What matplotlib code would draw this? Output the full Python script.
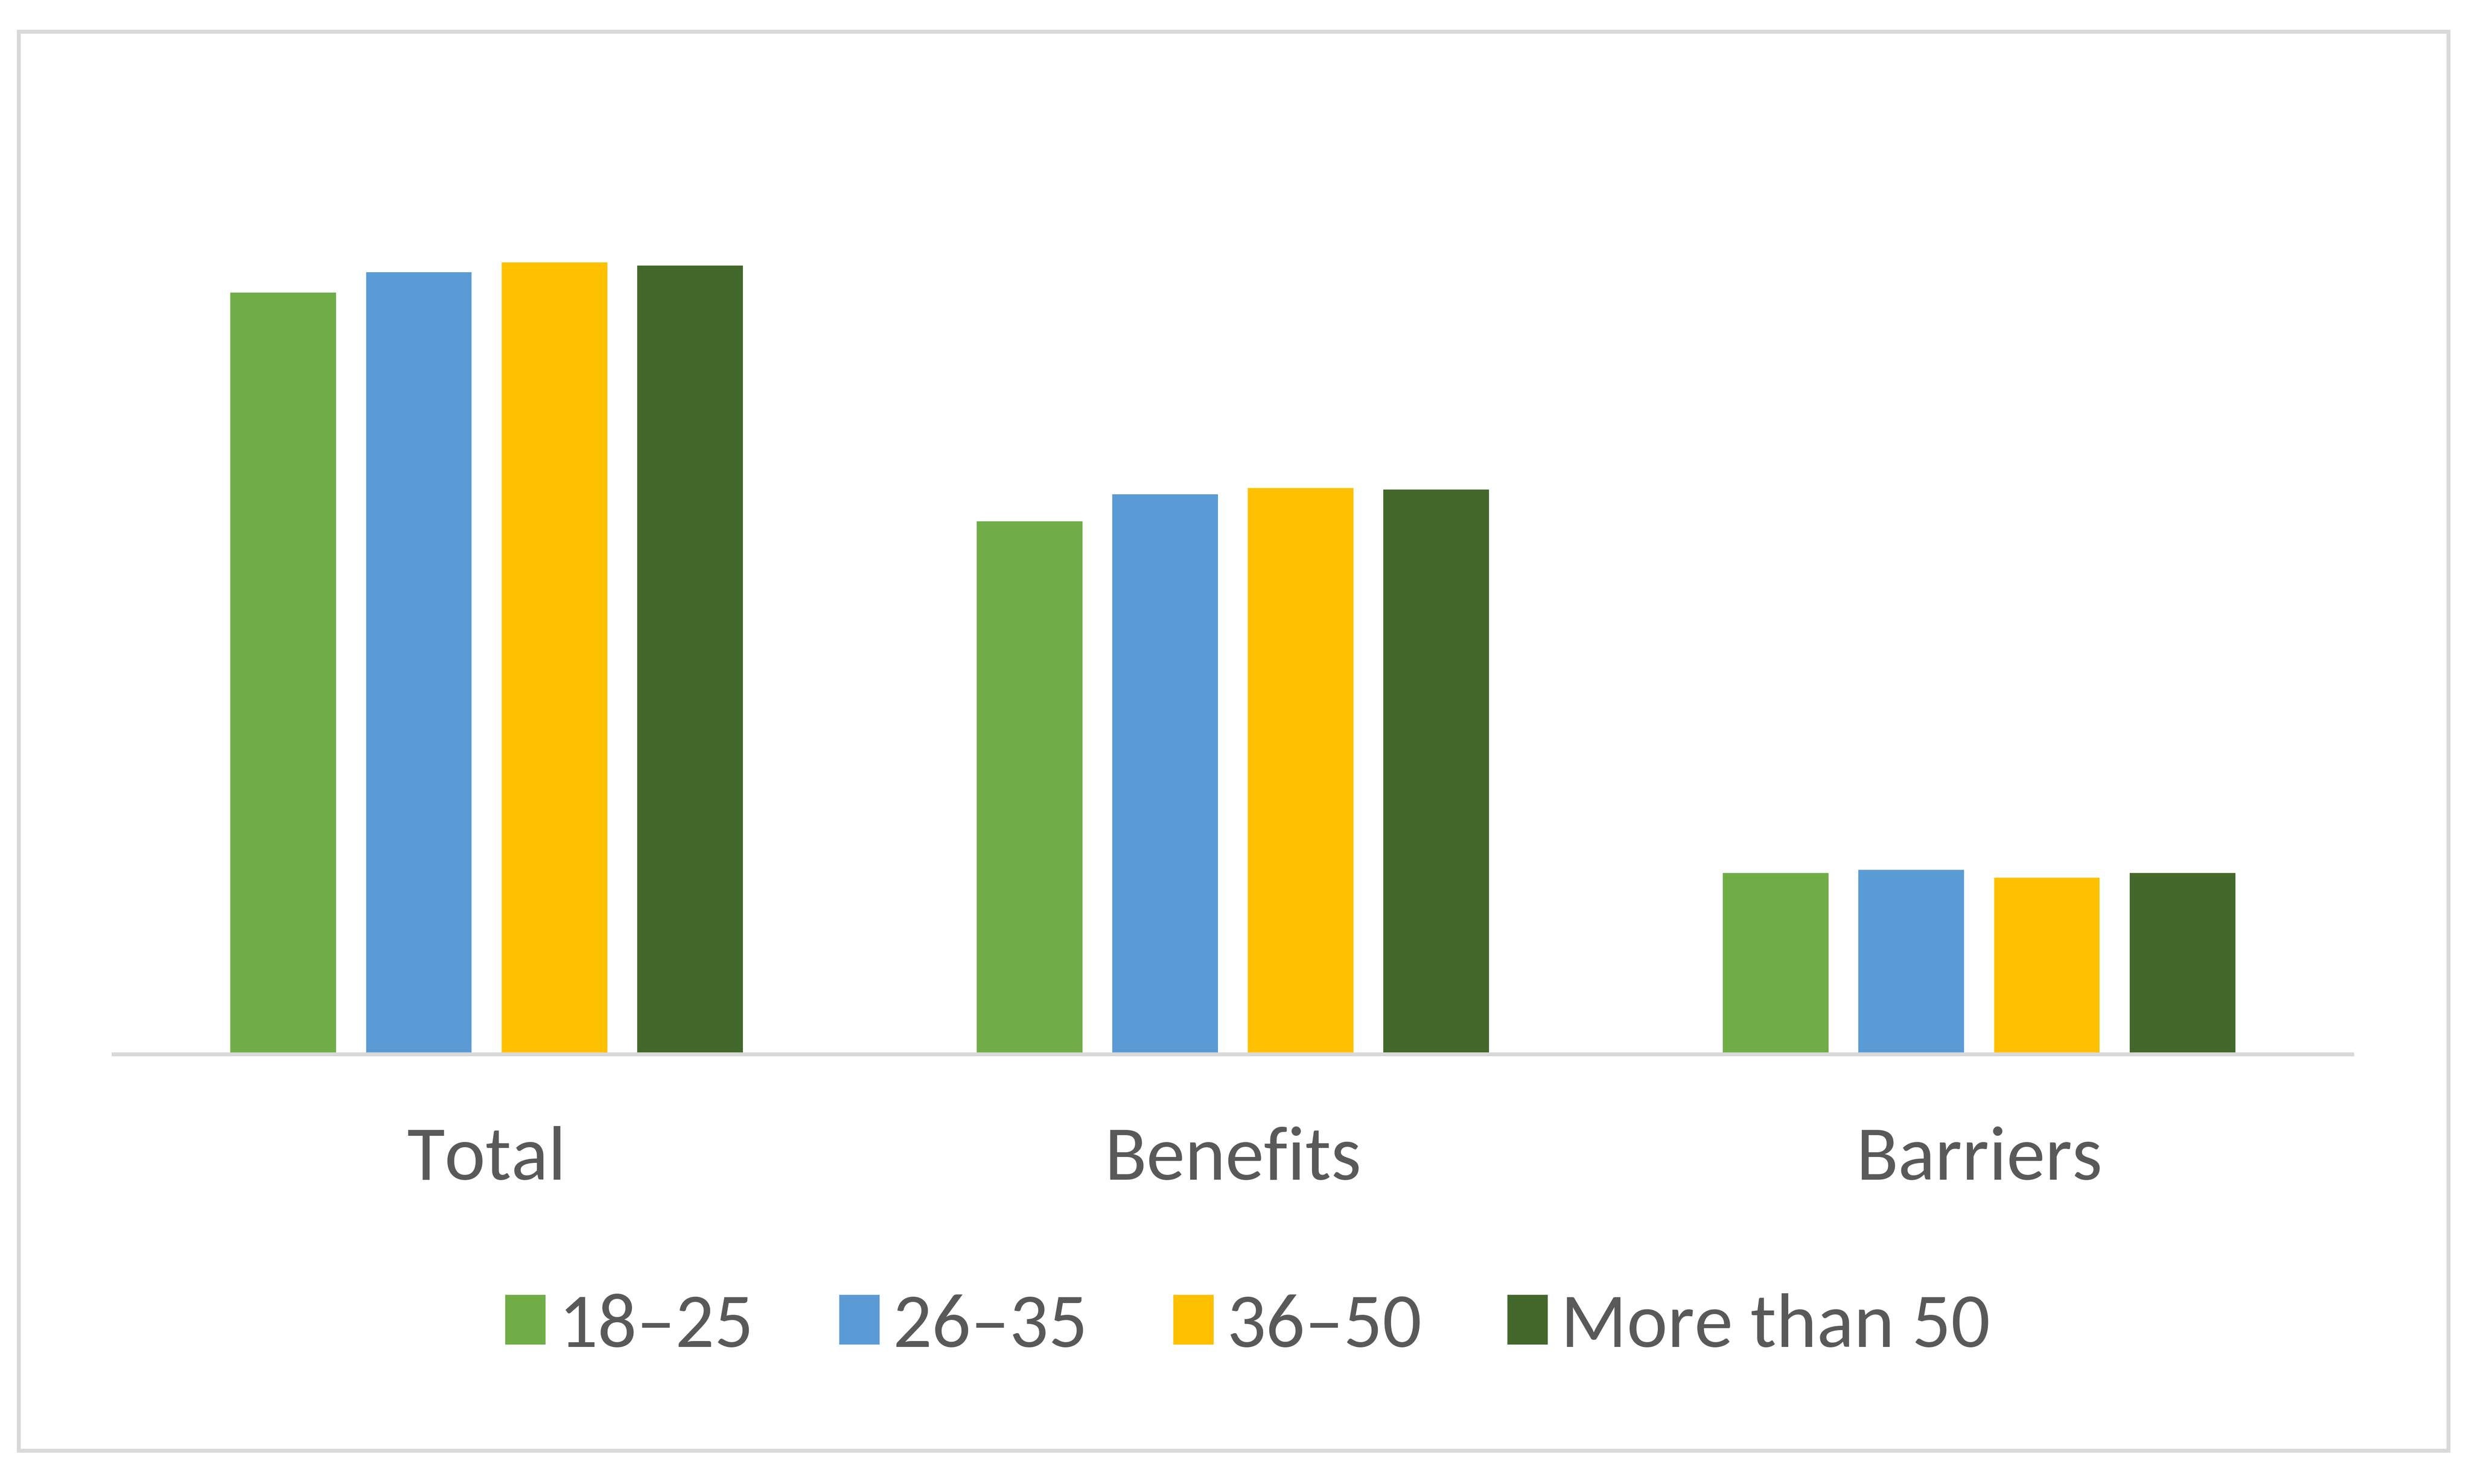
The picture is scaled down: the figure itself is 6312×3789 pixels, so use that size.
import matplotlib
matplotlib.use("Agg")
import matplotlib.pyplot as plt
from matplotlib.patches import Rectangle
import numpy as np

categories = ["Total", "Benefits", "Barriers"]
series_names = ["18\u201325", "26\u201335", "36\u201350", "More than 50"]
v_18_25 = [4.83, 3.38, 1.15]
v_26_35 = [4.96, 3.55, 1.17]
v_36_50 = [5.02, 3.59, 1.12]
v_over_50 = [5.00, 3.58, 1.15]
series_values = [v_18_25, v_26_35, v_36_50, v_over_50]
colors = ["#70AD47", "#5B9BD5", "#FFC000", "#43682B"]

plt.rcParams['font.family'] = ['Carlito', 'Lato', 'DejaVu Sans']

W, H = 6312, 3789
dpi = 400
fig = plt.figure(figsize=(W / dpi, H / dpi), dpi=dpi)
fig.patch.set_facecolor("white")

# outer border
fig.add_artist(Rectangle((12 / 1568, 1 - 920 / 941), (1553 - 12) / 1568, (920 - 20) / 941,
                         transform=fig.transFigure, fill=False, edgecolor="#D9D9D9", linewidth=1.8))

ax = fig.add_axes([72 / 1568, 1 - 668.5 / 941, (1492 - 72) / 1568, (668.5 - 60) / 941])
x = np.arange(len(categories))
slot = 0.1817
width = 0.1416
for i, (name, vals, c) in enumerate(zip(series_names, series_values, colors)):
    ax.bar(x + (i - 1.5) * slot, vals, width=width, color=c, label=name, zorder=2)

ax.set_xlim(-0.5, 2.5)
ax.set_ylim(0, 6.085)
for s in ["top", "right", "left"]:
    ax.spines[s].set_visible(False)
ax.spines["bottom"].set_color("#D9D9D9")
ax.spines["bottom"].set_linewidth(1.8)
ax.set_yticks([])
ax.set_xticks(x)
ax.set_xticklabels(categories, fontsize=35.5, color="#595959")
ax.tick_params(axis="x", length=0, pad=33)

leg = fig.legend(loc="center", bbox_to_anchor=(791.5 / 1568, 1 - 841 / 941), ncol=4,
                 frameon=False, fontsize=35.5, handlelength=0.52, handleheight=0.62,
                 handletextpad=0.17, columnspacing=1.11, labelcolor="#595959")

fig.savefig("out.png", dpi=dpi, facecolor="white")
